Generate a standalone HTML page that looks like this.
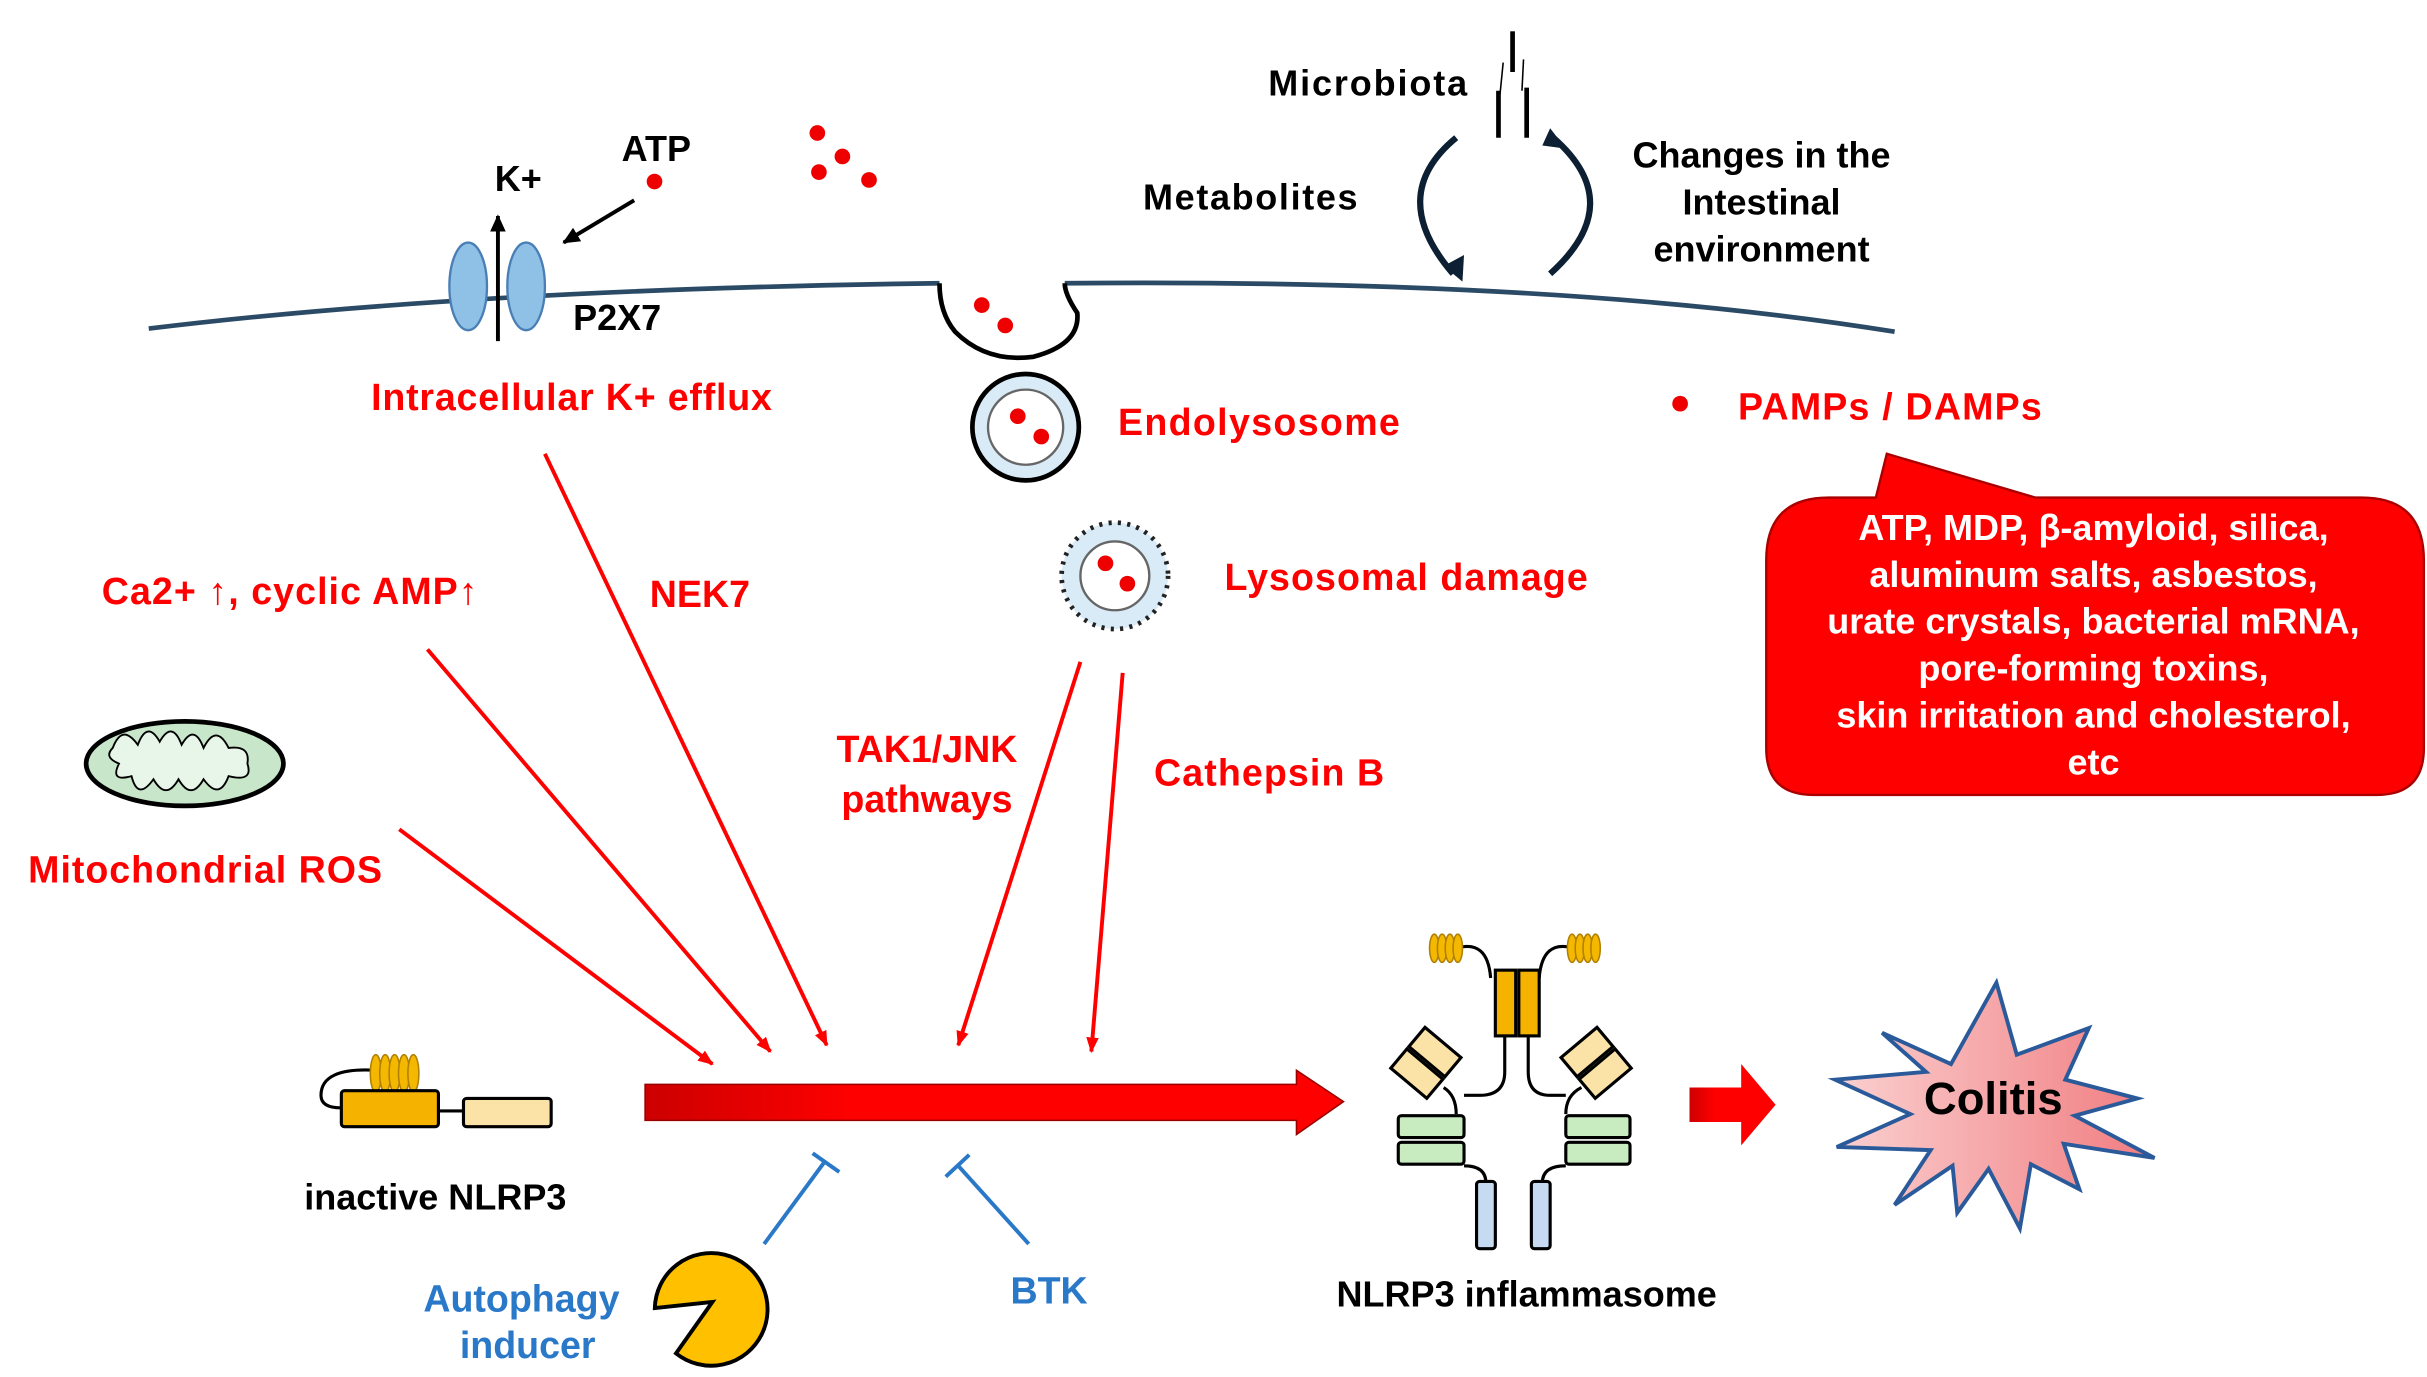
<!DOCTYPE html>
<html><head><meta charset="utf-8"><style>
html,body{margin:0;padding:0;background:#fff}
svg{display:block}
text{font-family:"Liberation Sans",Arial,sans-serif;font-weight:bold}
</style></head><body>
<svg width="2427" height="1377" viewBox="0 0 1550 880" preserveAspectRatio="none" xmlns="http://www.w3.org/2000/svg">
<defs>
<marker id="ar" markerWidth="10" markerHeight="10" refX="9" refY="5" orient="auto" markerUnits="userSpaceOnUse"><path d="M0,1 L10,5 L0,9 z" fill="#f00"/></marker>
<marker id="ak" markerWidth="12" markerHeight="12" refX="10" refY="6" orient="auto" markerUnits="userSpaceOnUse"><path d="M0,1 L11,6 L0,11 z" fill="#000"/></marker>
<linearGradient id="gr" x1="0" y1="0" x2="1" y2="0"><stop offset="0" stop-color="#c00"/><stop offset="0.3" stop-color="#f00"/></linearGradient>
<linearGradient id="gs" x1="0" y1="0" x2="1" y2="0"><stop offset="0" stop-color="#fbd0d0"/><stop offset="1" stop-color="#f07c80"/></linearGradient>
</defs>
<path d="M95,210 Q300,185 600,181 M680,181 Q1000,178 1210,212" fill="none" stroke="#2b4a66" stroke-width="3"/>
<path d="M600,181 Q600,200 610,212 Q630,232 660,228 Q690,220 688,200 Q680,188 680,181" fill="none" stroke="#000" stroke-width="3"/>
<ellipse cx="299" cy="183" rx="12" ry="28" fill="#8fc1e6" stroke="#4a7fb5" stroke-width="1.5"/>
<ellipse cx="336" cy="183" rx="12" ry="28" fill="#8fc1e6" stroke="#4a7fb5" stroke-width="1.5"/>
<line x1="318" y1="218" x2="318" y2="138" stroke="#000" stroke-width="2.5" marker-end="url(#ak)"/>
<text x="316" y="122" font-size="23">K+</text>
<text x="397" y="103" font-size="23">ATP</text>
<circle cx="418" cy="116" r="5" fill="#e00"/>
<line x1="405" y1="128" x2="360" y2="155" stroke="#000" stroke-width="2.5" marker-end="url(#ak)"/>
<text x="366" y="211" font-size="23">P2X7</text>
<g fill="#e00"><circle cx="522" cy="85" r="5"/><circle cx="538" cy="100" r="5"/><circle cx="523" cy="110" r="5"/><circle cx="555" cy="115" r="5"/><circle cx="627" cy="195" r="5"/><circle cx="642" cy="208" r="5"/></g>
<text x="810" y="61" font-size="23" textLength="127">Microbiota</text>
<g stroke="#000" stroke-width="3"><line x1="966" y1="20" x2="966" y2="46"/><line x1="957" y1="58" x2="957" y2="88"/><line x1="975" y1="56" x2="975" y2="88"/></g>
<g stroke="#000" stroke-width="1"><line x1="960" y1="40" x2="958" y2="60"/><line x1="973" y1="38" x2="972" y2="58"/></g>
<text x="730" y="134" font-size="23" textLength="137">Metabolites</text>
<path d="M930,88 Q885,125 928,175" fill="none" stroke="#0d1f33" stroke-width="4"/>
<path d="M922,170 L934,180 L935,163 z" fill="#0d1f33"/>
<path d="M990,175 Q1040,130 992,88" fill="none" stroke="#0d1f33" stroke-width="4"/>
<path d="M985,93 L990,82 L1000,95 z" fill="#0d1f33"/>
<text x="1125" y="107" font-size="23" text-anchor="middle">Changes in the</text>
<text x="1125" y="137" font-size="23" text-anchor="middle">Intestinal</text>
<text x="1125" y="167" font-size="23" text-anchor="middle">environment</text>
<circle cx="655" cy="273" r="34" fill="#d9ebf7" stroke="#000" stroke-width="3"/>
<circle cx="655" cy="273" r="24" fill="#fff" stroke="#666" stroke-width="1.5"/>
<circle cx="650" cy="266" r="5" fill="#e00"/><circle cx="665" cy="279" r="5" fill="#e00"/>
<text x="714" y="278" font-size="24" fill="#f00" textLength="180">Endolysosome</text>
<circle cx="712" cy="368" r="34" fill="#d9ebf7" stroke="#222" stroke-width="3" stroke-dasharray="2 4"/>
<circle cx="712" cy="368" r="22" fill="#fff" stroke="#666" stroke-width="1.5"/>
<circle cx="706" cy="360" r="5" fill="#e00"/><circle cx="720" cy="373" r="5" fill="#e00"/>
<text x="782" y="377" font-size="24" fill="#f00" textLength="232">Lysosomal damage</text>
<circle cx="1073" cy="258" r="5" fill="#e00"/>
<text x="1110" y="268" font-size="24" fill="#f00" textLength="194">PAMPs / DAMPs</text>
<path d="M1205,290 L1300,318 L1508,318 Q1548,318 1548,358 L1548,478 Q1548,508 1518,508 L1158,508 Q1128,508 1128,478 L1128,358 Q1128,318 1168,318 L1198,318 z" fill="#f00" stroke="#a00" stroke-width="1.5"/>
<g fill="#fff" font-size="23" text-anchor="middle">
<text x="1337" y="345">ATP, MDP, β-amyloid, silica,</text>
<text x="1337" y="375">aluminum salts, asbestos,</text>
<text x="1337" y="405">urate crystals, bacterial mRNA,</text>
<text x="1337" y="435">pore-forming toxins,</text>
<text x="1337" y="465">skin irritation and cholesterol,</text>
<text x="1337" y="495">etc</text></g>
<g fill="#f00" font-size="24">
<text x="237" y="262" textLength="256">Intracellular K+ efflux</text>
<text x="65" y="386" textLength="240">Ca2+ ↑, cyclic AMP↑</text>
<text x="415" y="388">NEK7</text>
<text x="18" y="564" textLength="226">Mitochondrial ROS</text>
<text x="592" y="487" text-anchor="middle">TAK1/JNK</text>
<text x="592" y="519" text-anchor="middle">pathways</text>
<text x="737" y="502" textLength="147">Cathepsin B</text></g>
<ellipse cx="118" cy="488" rx="63" ry="27" fill="#c8e6c9" stroke="#000" stroke-width="3"/>
<path d="M72,478 Q78,462 88,476 Q94,460 102,474 Q110,460 116,476 Q124,462 130,478 Q138,462 146,478 Q160,476 158,488 Q162,500 146,496 Q140,512 130,498 Q122,512 114,498 Q106,512 98,498 Q88,512 84,496 Q70,500 76,488 Q66,484 72,478z" fill="#e8f5e9" stroke="#000" stroke-width="1.2"/>
<g stroke="#f00" stroke-width="2.5" fill="none">
<line x1="255" y1="530" x2="455" y2="680" marker-end="url(#ar)"/>
<line x1="273" y1="415" x2="492" y2="672" marker-end="url(#ar)"/>
<line x1="348" y1="290" x2="528" y2="668" marker-end="url(#ar)"/>
<line x1="690" y1="423" x2="612" y2="668" marker-end="url(#ar)"/>
<line x1="717" y1="430" x2="697" y2="672" marker-end="url(#ar)"/></g>
<path d="M412,693 L828,693 L828,684 L858,704 L828,725 L828,716 L412,716 z" fill="url(#gr)" stroke="#900" stroke-width="1"/>
<path d="M240,684 Q205,682 205,700 Q205,708 218,708" fill="none" stroke="#000" stroke-width="2"/>
<g fill="#f5b800" stroke="#b08000" stroke-width="1"><ellipse cx="240" cy="686" rx="3.5" ry="12"/><ellipse cx="246" cy="686" rx="3.5" ry="12"/><ellipse cx="252" cy="686" rx="3.5" ry="12"/><ellipse cx="258" cy="686" rx="3.5" ry="12"/><ellipse cx="264" cy="686" rx="3.5" ry="12"/></g>
<rect x="218" y="697" width="62" height="23" rx="2" fill="#f5b300" stroke="#000" stroke-width="2"/>
<line x1="280" y1="710" x2="296" y2="710" stroke="#000" stroke-width="2"/>
<rect x="296" y="702" width="56" height="18" rx="2" fill="#fbe3a8" stroke="#000" stroke-width="2"/>
<text x="278" y="773" font-size="23" text-anchor="middle">inactive NLRP3</text>
<g stroke="#2a78c8" stroke-width="2.5"><line x1="488" y1="795" x2="527" y2="742"/><line x1="519" y1="737" x2="536" y2="749"/>
<line x1="657" y1="795" x2="612" y2="745"/><line x1="604" y1="752" x2="619" y2="738"/></g>
<path d="M455,832 L420,820 A36,36 0 1 1 420,852 Z" transform="rotate(-25 455 832)" fill="#ffc000" stroke="#000" stroke-width="2.5"/>
<g fill="#2a78c8" font-size="24" text-anchor="middle"><text x="333" y="838">Autophagy</text><text x="337" y="868">inducer</text><text x="670" y="833">BTK</text></g>
<g fill="none" stroke="#000" stroke-width="2"><path d="M930,606 Q950,600 952,625"/><path d="M1005,606 Q985,600 983,625"/><path d="M961,662 L961,685 Q961,700 945,700 L935,700"/><path d="M976,662 L976,685 Q976,700 990,700 L1000,700"/><path d="M922,695 Q930,700 930,712"/><path d="M1010,695 Q1000,700 1000,712"/><path d="M935,745 Q949,745 949,756"/><path d="M1000,745 Q985,745 985,756"/></g>
<g fill="#f5b800" stroke="#b08000" stroke-width="1"><ellipse cx="916" cy="606" rx="3" ry="9"/><ellipse cx="921" cy="606" rx="3" ry="9"/><ellipse cx="926" cy="606" rx="3" ry="9"/><ellipse cx="931" cy="606" rx="3" ry="9"/><ellipse cx="1004" cy="606" rx="3" ry="9"/><ellipse cx="1009" cy="606" rx="3" ry="9"/><ellipse cx="1014" cy="606" rx="3" ry="9"/><ellipse cx="1019" cy="606" rx="3" ry="9"/></g>
<rect x="955" y="620" width="13" height="42" fill="#f5b300" stroke="#000" stroke-width="2"/>
<rect x="970" y="620" width="13" height="42" fill="#f5b300" stroke="#000" stroke-width="2"/>
<g transform="rotate(40 910 680)"><rect x="895" y="662" width="30" height="16" fill="#fbe3a8" stroke="#000" stroke-width="2"/><rect x="895" y="680" width="30" height="16" fill="#fbe3a8" stroke="#000" stroke-width="2"/></g>
<g transform="rotate(-40 1020 680)"><rect x="1005" y="662" width="30" height="16" fill="#fbe3a8" stroke="#000" stroke-width="2"/><rect x="1005" y="680" width="30" height="16" fill="#fbe3a8" stroke="#000" stroke-width="2"/></g>
<g fill="#c8ecc0" stroke="#000" stroke-width="2"><rect x="893" y="713" width="42" height="14" rx="2"/><rect x="893" y="730" width="42" height="14" rx="2"/><rect x="1000" y="713" width="41" height="14" rx="2"/><rect x="1000" y="730" width="41" height="14" rx="2"/></g>
<rect x="943" y="755" width="12" height="43" rx="2" fill="#c6dbf2" stroke="#000" stroke-width="2"/>
<rect x="978" y="755" width="12" height="43" rx="2" fill="#c6dbf2" stroke="#000" stroke-width="2"/>
<text x="975" y="835" font-size="23" text-anchor="middle">NLRP3 inflammasome</text>
<path d="M1079,695 L1112,695 L1112,680 L1134,706 L1112,732 L1112,717 L1079,717 z" fill="url(#gr)"/>
<path d="M1202,660 L1246,680 L1275,628 L1288,674 L1334,657 L1319,690 L1365,702 L1325,713 L1376,740 L1318,731 L1328,760 L1297,744 L1290,785 L1270,747 L1250,775 L1247,745 L1210,770 L1233,735 L1173,733 L1220,712 L1172,690 L1230,685 z" fill="url(#gs)" stroke="#2a5a9a" stroke-width="2.5"/>
<text x="1273" y="712" font-size="29" text-anchor="middle">Colitis</text>
</svg>
</body></html>
